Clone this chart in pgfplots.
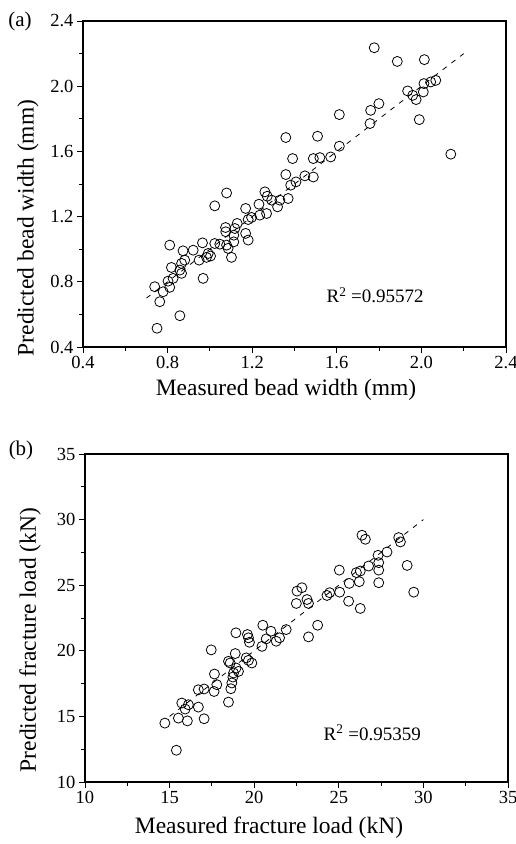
\documentclass[border=0pt]{standalone}
\usepackage{fontspec}
\setmainfont{Liberation Serif}
\usepackage{pgfplots}
\pgfplotsset{compat=1.18}
\pgfplotsset{
  myax/.style={
    scale only axis,
    axis line style={line width=1.1pt},
    tick align=outside, xtick pos=bottom, ytick pos=left,
    major tick length=6pt, minor tick length=3.5pt,
    every tick/.style={black, line width=0.9pt},
    minor x tick num=1, minor y tick num=1,
    tick label style={font=\fontsize{18.5}{20}\selectfont},
    label style={font=\fontsize{23.5}{26}\selectfont},
    /pgf/number format/assume math mode=true,
    clip=false,
  },
  pts/.style={only marks, mark=o, mark size=5pt, black, mark options={line width=0.8pt}},
  fit/.style={black, dash pattern=on 5pt off 6pt, line width=0.8pt},
}
\begin{document}
\begin{tikzpicture}
\useasboundingbox (0,-844pt) rectangle (516pt,0);
\node[font=\fontsize{21}{24}\selectfont] at (20pt,-21pt) {(a)};
\node[font=\fontsize{21}{24}\selectfont] at (21pt,-450pt) {(b)};

\begin{axis}[myax, at={(83pt,-347pt)}, anchor=south west,
  width=423pt, height=326pt,
  xmin=0.4, xmax=2.4, ymin=0.4, ymax=2.4,
  xtick={0.4,0.8,1.2,1.6,2.0,2.4}, ytick={0.4,0.8,1.2,1.6,2.0,2.4},
  xticklabel style={/pgf/number format/fixed,/pgf/number format/fixed zerofill,/pgf/number format/precision=1},
  yticklabel style={/pgf/number format/fixed,/pgf/number format/fixed zerofill,/pgf/number format/precision=1},
  xlabel={Measured bead width (mm)},
  xlabel style={at={(axis description cs:0.48,-0.13)}, anchor=center},
  ylabel={Predicted bead width (mm)},
  ylabel style={at={(axis description cs:-0.13,0.365)}, anchor=center},
]
\addplot[pts] table {
x y
0.750 0.515
0.858 0.592
0.763 0.678
0.739 0.770
0.779 0.739
0.810 0.766
0.802 0.804
0.826 0.821
0.818 0.888
0.810 1.025
0.858 0.872
0.866 0.913
0.873 0.990
0.881 0.933
0.866 0.852
0.921 0.994
0.949 0.933
0.965 1.039
0.968 0.821
0.984 0.950
1.003 0.958
0.992 0.974
1.023 1.266
1.023 1.035
1.047 1.031
1.079 1.345
1.074 1.133
1.079 1.025
1.086 1.005
1.102 0.950
1.075 1.107
1.113 1.086
1.113 1.045
1.118 1.127
1.129 1.158
1.169 1.250
1.169 1.097
1.181 1.056
1.181 1.182
1.197 1.195
1.232 1.276
1.236 1.209
1.268 1.219
1.260 1.352
1.271 1.325
1.292 1.301
1.320 1.260
1.331 1.301
1.370 1.311
1.382 1.393
1.359 1.685
1.391 1.556
1.359 1.458
1.407 1.413
1.449 1.450
1.489 1.443
1.489 1.556
1.509 1.693
1.520 1.562
1.571 1.566
1.612 1.632
1.612 1.826
1.757 1.771
1.760 1.852
1.799 1.893
1.777 2.236
1.886 2.152
2.014 2.163
1.935 1.971
1.959 1.944
1.975 1.918
2.009 1.965
2.012 2.016
2.044 2.026
2.068 2.036
1.990 1.795
2.139 1.583
};
\addplot[fit] coordinates {(0.7,0.7) (2.2,2.2)};
\node[anchor=west, font=\fontsize{19}{22}\selectfont] at (axis cs:1.535,0.719) {R\textsuperscript{2} =0.95572};
\end{axis}

\begin{axis}[myax, at={(85pt,-782pt)}, anchor=south west,
  width=423pt, height=328pt,
  xmin=10, xmax=35, ymin=10, ymax=35,
  xtick={10,15,20,25,30,35}, ytick={10,15,20,25,30,35},
  xlabel={Measured fracture load (kN)},
  xlabel style={at={(axis description cs:0.435,-0.14)}, anchor=center},
  ylabel={Predicted fracture load (kN)},
  ylabel style={at={(axis description cs:-0.13,0.433)}, anchor=center},
]
\addplot[pts] table {
x y
15.40 12.42
14.72 14.49
15.52 14.87
16.05 14.66
17.04 14.82
15.72 16.02
16.11 15.89
15.92 15.56
16.70 15.71
16.70 17.03
17.04 17.09
17.63 16.90
17.79 17.42
17.65 18.23
17.46 20.07
18.48 16.09
18.62 17.11
18.68 17.55
18.74 18.00
18.58 19.07
18.93 18.69
19.07 18.43
18.88 19.79
18.48 19.20
18.78 18.31
18.92 21.37
19.53 19.46
19.66 19.27
19.86 19.07
19.60 21.24
19.66 20.99
19.72 20.65
20.46 20.34
20.51 21.95
20.71 20.91
20.99 21.49
21.30 20.73
21.50 20.99
21.89 21.62
22.49 23.61
22.53 24.55
22.82 24.81
23.21 23.61
23.12 23.91
23.75 21.95
23.21 21.06
24.30 24.22
24.46 24.43
25.05 24.47
25.58 23.78
26.27 23.23
25.62 25.14
26.21 25.27
25.03 26.15
26.04 25.96
26.27 26.08
26.76 26.46
27.36 25.19
27.36 26.15
27.36 26.72
27.32 27.28
27.85 27.53
28.54 28.63
28.64 28.30
26.37 28.81
26.57 28.50
29.04 26.51
29.43 24.47
};
\addplot[fit] coordinates {(15,15) (30,30)};
\node[anchor=west, font=\fontsize{19}{22}\selectfont] at (axis cs:23.9,13.75) {R\textsuperscript{2} =0.95359};
\end{axis}
\end{tikzpicture}
\end{document}
